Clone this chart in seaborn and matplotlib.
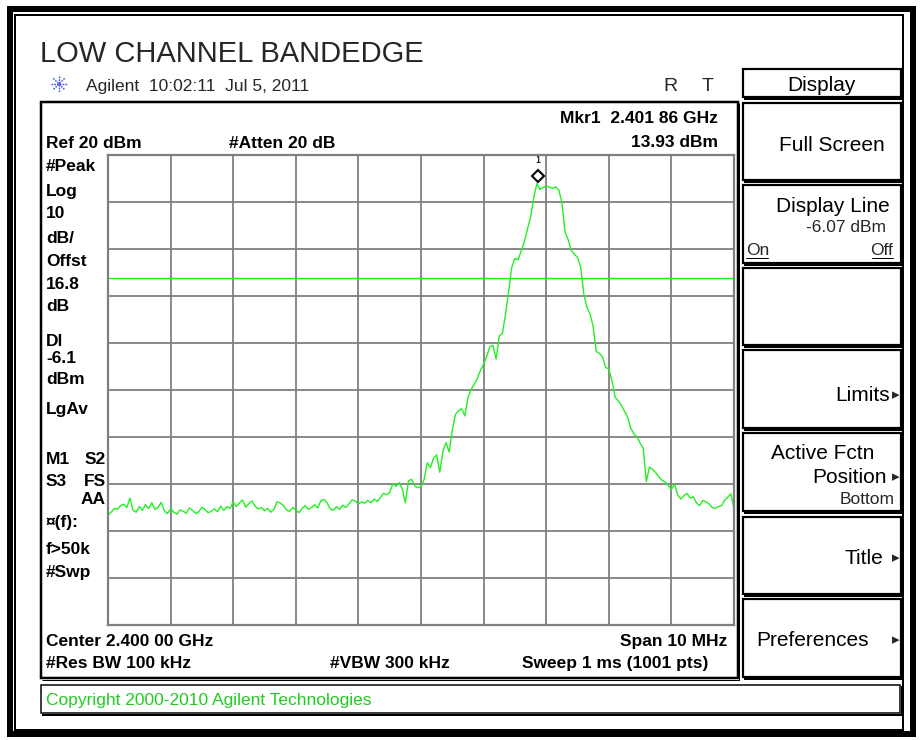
import numpy as np
import pandas as pd
import matplotlib
matplotlib.use("Agg")
import matplotlib.pyplot as plt
import matplotlib.transforms as mtransforms
from matplotlib.patches import Rectangle
import seaborn as sns

# =========================
# ANALYZER SETTINGS
# =========================
center_ghz = 2.400
span_mhz = 10.0
ref_level = 20.0
db_per_div = 10.0
n_div = 10
display_line = -6.07
mkr_freq = 2.40186
mkr_level = 13.93

# trace level in dBm, read every 0.05 MHz from 2.395 to 2.405 GHz
levels = [
    -56.6, -56.0, -55.2, -55.4, -54.6, -54.3, -55.0, -53.0, -55.6, -56.0,
    -54.8, -55.6, -54.4, -55.2, -54.0, -55.4, -55.0, -53.9, -55.7, -56.3,
    -55.2, -56.0, -56.4, -55.5, -55.8, -56.2, -55.1, -55.6, -56.3, -55.9,
    -55.0, -55.4, -56.1, -55.8, -55.3, -55.9, -54.7, -55.6, -54.8, -55.2,
    -53.8, -54.8, -54.0, -53.4, -54.9, -54.2, -53.6, -54.7, -55.3, -55.0,
    -55.7, -55.2, -56.0, -55.4, -53.8, -54.0, -54.6, -55.5, -55.8, -55.0,
    -55.6, -56.1, -55.2, -54.6, -55.4, -55.0, -54.4, -55.1, -53.6, -53.3,
    -54.0, -55.3, -55.6, -54.8, -55.4, -54.5, -55.0, -54.2, -53.4, -53.6,
    -54.3, -53.8, -54.1, -53.5, -54.0, -53.2, -53.7, -52.9, -52.0, -52.3,
    -51.8, -49.9, -50.5, -49.7, -51.0, -54.0, -49.3, -49.0, -50.4, -50.8,
    -50.6, -49.0, -45.5, -46.5, -44.5, -43.8, -47.5, -43.0, -41.2, -43.2,
    -38.5, -35.2, -34.4, -34.0, -35.5, -31.6, -29.9, -28.8, -27.5, -25.8,
    -24.5, -22.8, -20.8, -20.5, -23.4, -18.5, -18.0, -13.9, -9.0, -3.9,
    -2.0, -2.3, -0.5, 1.5, 4.2, 6.8, 10.8, 13.9, 12.7, 13.1,
    13.4, 13.2, 12.9, 13.2, 12.6, 10.0, 3.7, 2.0, -0.3, -1.1,
    -1.8, -3.8, -9.5, -12.4, -13.8, -16.5, -21.8, -22.2, -23.0, -25.2,
    -25.5, -28.0, -31.5, -32.3, -33.2, -34.5, -35.8, -38.1, -39.3, -40.0,
    -41.3, -42.4, -49.5, -46.4, -46.9, -47.6, -48.5, -49.2, -49.6, -50.3,
    -51.2, -50.0, -52.3, -53.2, -52.5, -52.0, -53.0, -52.7, -54.0, -54.6,
    -53.5, -53.8, -54.2, -55.0, -55.2, -54.8, -54.6, -53.5, -52.8, -52.1, -55.2,
]

f_start = center_ghz - span_mhz / 2000.0
f_stop = center_ghz + span_mhz / 2000.0
df = pd.DataFrame({"freq": np.linspace(f_start, f_stop, len(levels)), "level": levels})

# screen texts
left_notes = [("#Peak", 171), ("Log", 196), ("10", 218), ("dB/", 243), ("Offst", 266),
              ("16.8", 289), ("dB", 311), ("Dl", 346), ("-6.1", 363), ("dBm", 384),
              ("LgAv", 414), ("M1", 464), ("S3", 486), ("\u00a4(f):", 527),
              ("f>50k", 554), ("#Swp", 577)]
right_notes = [("S2", 464), ("FS", 486), ("AA", 504)]

sns.set_style("white")
plt.rcParams["font.family"] = ["Liberation Sans", "DejaVu Sans"]

W, H = 923, 740
GREEN = "#22f022"
fig = plt.figure(figsize=(W / 100, H / 100), dpi=100)

# =========================
# SCREEN FRAME (pixel coordinates)
# =========================
bg = fig.add_axes([0, 0, 1, 1])
bg.set_xlim(0, W)
bg.set_ylim(H, 0)
bg.axis("off")

PX = 0.72  # one pixel in points


def box(x0, y0, x1, y1, lw=2, shadow=2):
    bg.add_patch(Rectangle((x0, y0), x1 - x0, y1 - y0, fill=False, ec="black", lw=lw * PX))
    if shadow:
        bg.plot([x0 + 1, x1 + 1.5, x1 + 1.5], [y1 + 1.5, y1 + 1.5, y0 + 1],
                color="black", lw=shadow * PX, solid_capstyle="butt")


# outer double frame
bg.add_patch(Rectangle((9.5, 8.5), W - 10.5 - 9.5, H - 14.5, fill=False, ec="black", lw=6 * PX))
bg.add_patch(Rectangle((14.5, 14.5), W - 20 - 14.5, H - 25, fill=False, ec="black", lw=2 * PX))

# screen box and copyright box
box(41, 102, 737.5, 678, lw=2.5, shadow=1)
box(41, 685, 900, 713, lw=1.5, shadow=2)

# softkey boxes
keys = [(69, 97), (103, 180), (185, 263), (268, 345), (350, 428), (433, 511), (517, 594), (599, 677)]
for y0, y1 in keys:
    box(743, y0, 901, y1, lw=2.2, shadow=2)

skw = dict(fontsize=15, color="black")
bg.text(821, 91, "Display", ha="center", **skw)
bg.text(885, 151, "Full Screen", ha="right", **skw)
bg.text(890, 212, "Display Line", ha="right", **skw)
bg.text(886, 232, "-6.07 dBm", ha="right", fontsize=12.5)
bg.text(746, 255, "On", ha="left", fontsize=12.5)
bg.text(893, 255, "Off", ha="right", fontsize=12.5)
bg.plot([746, 768], [257.5, 257.5], color="black", lw=1 * PX)
bg.plot([872, 893], [257.5, 257.5], color="black", lw=1 * PX)
bg.text(890, 401, "Limits", ha="right", **skw)
bg.text(874, 459, "Active Fctn", ha="right", **skw)
bg.text(887, 483, "Position", ha="right", **skw)
bg.text(895, 504, "Bottom", ha="right", fontsize=12.5)
bg.text(883, 564, "Title", ha="right", **skw)
bg.text(869, 646, "Preferences", ha="right", **skw)
for yb in [401, 483, 564, 646]:
    bg.text(892, yb - 6, "\u25b8", ha="left", va="center", fontsize=11, family="DejaVu Sans")

# title line and header
bg.text(40, 62, "LOW CHANNEL BANDEDGE", fontsize=21)
for ang in np.arange(0, np.pi, np.pi / 4):
    dx, dy = 8 * np.cos(ang), 8 * np.sin(ang)
    bg.plot([59 - dx, 59 + dx], [84 - dy, 84 + dy], color="#3a4cf0", lw=1.0, ls=(0, (1.2, 0.8)))
bg.text(86, 91, "Agilent  10:02:11  Jul 5, 2011", fontsize=12.5)
bg.text(663, 91, "R", fontsize=14)
bg.text(702, 91, "T", fontsize=14)

bold = dict(fontsize=12.5, fontweight="bold", color="black")
bg.text(718, 123, f"Mkr1  {mkr_freq:.5f}"[:-2] + f" {str(round(mkr_freq * 1e5))[-2:]} GHz", ha="right", **bold)
bg.text(718, 147, f"{mkr_level:.2f} dBm", ha="right", **bold)
bg.text(46, 148, f"Ref {ref_level:.0f} dBm", ha="left", **bold)
bg.text(229, 148, "#Atten 20 dB", ha="left", **bold)
for txt, yb in left_notes:
    bg.text(46, yb, txt, ha="left", **bold)
for txt, yb in right_notes:
    bg.text(106, yb, txt, ha="right", **bold)
bg.text(46, 646, "Center 2.400 00 GHz", ha="left", **bold)
bg.text(727, 646, f"Span {span_mhz:.0f} MHz", ha="right", **bold)
bg.text(46, 668, "#Res BW 100 kHz", ha="left", **bold)
bg.text(330, 668, "#VBW 300 kHz", ha="left", **bold)
bg.text(708, 668, "Sweep 1 ms (1001 pts)", ha="right", **bold)
bg.text(46, 705, "Copyright 2000-2010 Agilent Technologies", fontsize=12.5, color="#22cc22")

# =========================
# TRACE
# =========================
ax = fig.add_axes([108 / W, 1 - 625 / H, 626 / W, 470 / H])
ax.set_facecolor("white")
sns.lineplot(data=df, x="freq", y="level", ax=ax, color=GREEN, lw=1.0, estimator=None)
ax.axhline(display_line, color=GREEN, lw=1.0)

ax.set_xlim(f_start, f_stop)
ax.set_ylim(ref_level - n_div * db_per_div, ref_level)
ax.set_xticks(np.linspace(f_start, f_stop, n_div + 1))
ax.set_yticks(np.linspace(ref_level - n_div * db_per_div, ref_level, n_div + 1))
ax.tick_params(length=0, labelbottom=False, labelleft=False)
ax.grid(True, color="#7f7f7f", lw=1.3)
ax.set_axisbelow(True)
for sp in ax.spines.values():
    sp.set_color("#7f7f7f")
    sp.set_linewidth(1.6)
ax.set_xlabel("")
ax.set_ylabel("")

# marker 1 diamond just above the peak
off = mtransforms.offset_copy(ax.transData, fig=fig, x=0.5, y=5.5, units="points")
ax.plot([mkr_freq], [mkr_level], marker="D", ms=6, mfc="white", mec="black", mew=1.5,
        transform=off, clip_on=False, zorder=5)
off2 = mtransforms.offset_copy(ax.transData, fig=fig, x=0.5, y=13, units="points")
ax.text(mkr_freq, mkr_level, "1", transform=off2, ha="center", va="bottom",
        fontsize=6, family="DejaVu Sans Mono", fontweight="bold", clip_on=False)

fig.savefig("out.png", dpi=100)
